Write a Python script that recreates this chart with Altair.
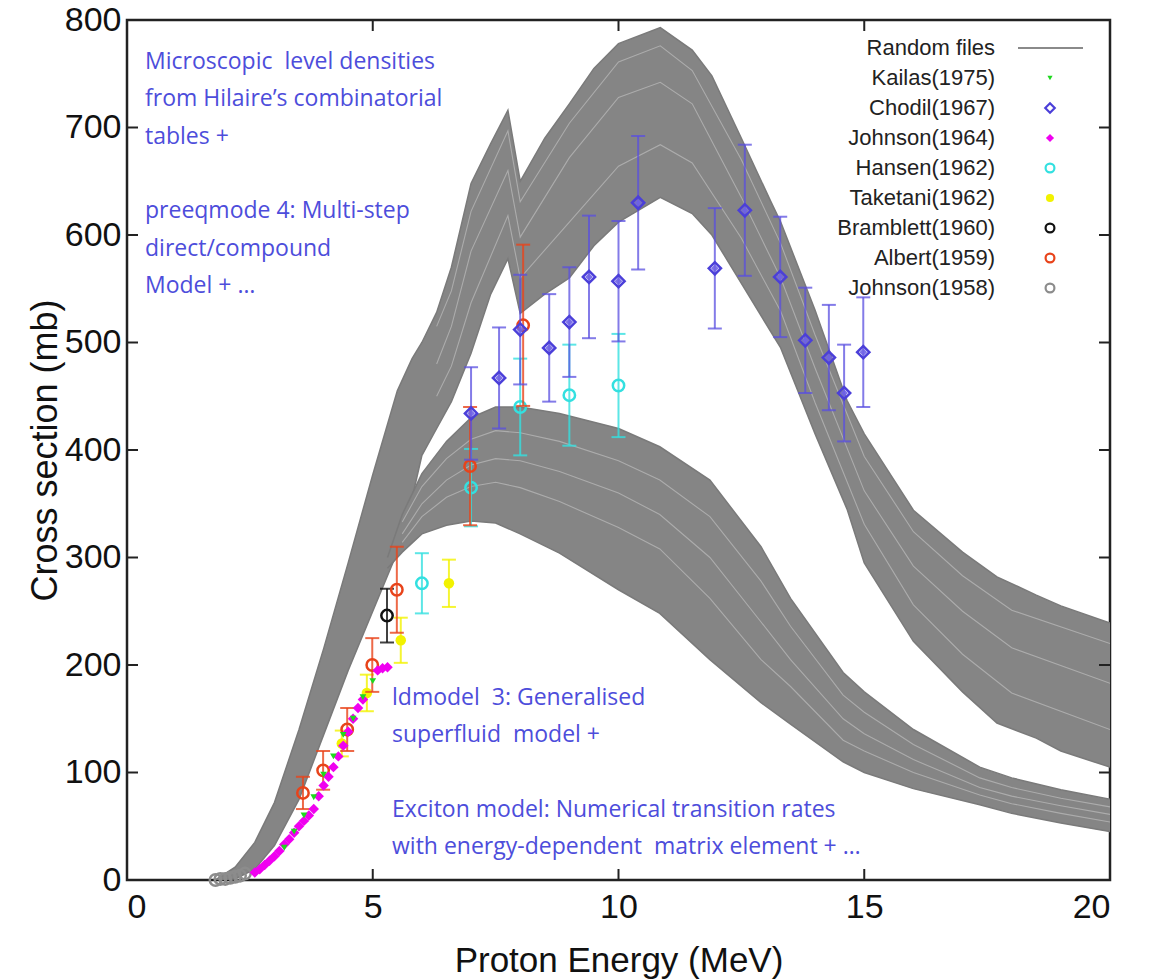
import altair as alt
import pandas as pd

# ---------------- Random files (TALYS) envelopes ----------------
up_E   = [1.8, 2.2, 2.6, 3.0, 3.5, 4.0, 4.5, 5.0, 5.5, 5.8, 6.0, 6.3, 6.6, 7.0, 7.4, 7.75, 8.0, 8.5, 9.0, 9.5, 10.0, 10.85, 11.5, 11.9, 12.5, 13.1, 13.3, 14.0, 14.65, 15.0, 16.0, 17.0, 17.7, 18.5, 19.0, 20.0]
up_top = [0, 12, 35, 72, 140, 215, 295, 377, 455, 485, 500, 528, 570, 648, 685, 716, 650, 690, 722, 755, 778, 793, 772, 748, 690, 631, 612, 530, 446, 415, 344, 305, 282, 265, 255, 239]
up_bot = [0, 1, 10, 32, 75, 135, 195, 250, 305, 355, 395, 420, 445, 490, 545, 578, 527, 545, 560, 590, 612, 635, 620, 600, 555, 510, 495, 415, 345, 295, 222, 175, 146, 132, 120, 105]

lo_E   = [5.3, 5.6, 6.0, 6.5, 7.0, 7.5, 8.0, 8.8, 10.0, 10.84, 11.86, 12.9, 13.5, 14.57, 15.0, 16.0, 17.35, 18.0, 19.0, 20.0]
lo_top = [300, 340, 378, 408, 430, 440, 440, 434, 420, 403, 372, 310, 262, 193, 175, 140, 105, 95, 84, 75]
lo_bot = [290, 305, 322, 330, 334, 332, 322, 304, 270, 248, 205, 165, 145, 110, 100, 85, 70, 62, 53, 45]

# a few individual curves that show as light streaks inside the bundles
up_st_E = [6.3, 6.6, 7.0, 7.75, 8.0, 9.0, 10.0, 10.85, 11.5, 12.5, 13.3, 14.0, 15.0, 16.0, 17.0, 18.0, 20.0]
up_st1  = [515, 548, 622, 697, 631, 704, 761, 776, 753, 670, 592, 507, 394, 324, 283, 251, 220]
up_st2  = [480, 515, 585, 660, 598, 672, 728, 742, 722, 635, 560, 476, 362, 292, 250, 216, 183]
up_st3  = [450, 478, 537, 618, 560, 612, 664, 684, 667, 597, 529, 444, 331, 256, 210, 174, 140]

lo_st_E = [5.6, 6.0, 6.5, 7.0, 7.5, 8.0, 8.8, 10.0, 10.84, 11.86, 12.9, 13.5, 14.57, 15.0, 16.0, 17.35, 18.0, 19.0, 20.0]
lo_st1  = [333, 366, 392, 410, 418, 416, 408, 390, 372, 338, 278, 236, 172, 156, 126, 95, 86, 76, 68]
lo_st2  = [322, 350, 372, 386, 392, 390, 380, 360, 340, 300, 240, 205, 150, 136, 112, 86, 78, 69, 61]
lo_st3  = [314, 338, 356, 366, 370, 365, 352, 328, 308, 262, 205, 180, 130, 120, 100, 79, 71, 62, 54]

# ---------------- Experimental data ----------------
kailas_E = [3.2, 3.4, 3.6, 3.8, 4.0, 4.2, 4.4, 4.6, 4.8, 5.0]
kailas_s = [30, 45, 60, 77, 98, 115, 135, 150, 170, 185]

chodil_E = [7.0, 7.57, 8.0, 8.59, 9.0, 9.4, 10.0, 10.4, 11.96, 12.57, 13.29, 13.8, 14.28, 14.59, 14.98]
chodil_s = [434, 467, 512, 495, 519, 561, 557, 630, 569, 623, 561, 502, 486, 453, 491]
chodil_d = [43, 47, 51, 50, 51, 57, 56, 62, 56, 61, 56, 49, 49, 45, 51]

j64_E = [2.6, 2.7, 2.8, 2.9, 3.0, 3.1, 3.2, 3.3, 3.4, 3.5, 3.6, 3.7, 3.8, 3.9, 4.0, 4.1, 4.2, 4.3, 4.4, 4.5, 4.6, 4.7, 4.8, 5.1, 5.2, 5.3]
j64_s = [7, 10, 14, 18, 22, 27, 33, 38, 44, 50, 55, 60, 66, 78, 88, 96, 105, 115, 125, 138, 150, 160, 168, 195, 197, 198]

hansen_E = [6.0, 7.0, 8.0, 9.0, 10.0]
hansen_s = [276, 365, 440, 451, 460]
hansen_d = [28, 36, 45, 47, 48]

taketani_E = [4.37, 4.88, 5.57, 6.55]
taketani_s = [127, 174, 223, 276]
taketani_d = [12, 17, 21, 22]

bramblett_E = [5.29]
bramblett_s = [246]
bramblett_d = [25]

albert_E = [3.58, 3.99, 4.48, 4.99, 5.49, 6.98, 8.06]
albert_s = [81, 102, 140, 200, 270, 385, 516]
albert_d = [15, 18, 20, 25, 40, 55, 75]

j58_E = [1.8, 1.9, 2.0, 2.1, 2.2, 2.3, 2.4]
j58_s = [0, 1, 1, 2, 3, 4, 6]

legend_names = ["Kailas(1975)", "Chodil(1967)", "Johnson(1964)", "Hansen(1962)",
                "Taketani(1962)", "Bramblett(1960)", "Albert(1959)", "Johnson(1958)"]

x_ticks = [0, 5, 10, 15, 20]
y_ticks = [0, 100, 200, 300, 400, 500, 600, 700, 800]

NB = "\u00a0"
notes_top = ["Microscopic " + NB + "level densities", "from Hilaire\u2019s combinatorial", "tables +",
             "", "preeqmode 4: Multi-step", "direct/compound", "Model + \u2026"]
notes_mid = ["ldmodel " + NB + "3: Generalised", NB + "superfluid " + NB + "model +"]
notes_bot = ["Exciton model: Numerical transition rates",
             "with energy-dependent " + NB + "matrix element + \u2026"]

# ---------------- Chart ----------------
W, H = 983, 860
FONT = "Liberation Sans"
NOTE_FONT = "Open Sans"
NOTE_COLOR = "#4d4ddb"
GRAY = "#858585"

xs = alt.Scale(domain=[0, 20], nice=False, zero=False)
ys = alt.Scale(domain=[0, 800], nice=False)
x_axis = alt.Axis(values=x_ticks, title="Proton Energy (MeV)", ticks=False, domain=False, grid=False,
                  labelFontSize=34, labelFont=FONT, labelColor="#111", labelPadding=10,
                  titleFontSize=35, titleFont=FONT, titleFontWeight="normal", titleColor="#111",
                  titleY=80, titleBaseline="middle")
y_axis = alt.Axis(values=y_ticks, title="Cross section (mb)", ticks=False, domain=False, grid=False,
                  labelFontSize=34, labelFont=FONT, labelColor="#111", labelPadding=6,
                  titleFontSize=36, titleFont=FONT, titleFontWeight="normal", titleColor="#111",
                  titleX=-82, titleBaseline="middle")

def X(f="E"):
    return alt.X(f"{f}:Q", scale=xs, axis=x_axis)

def Y(f="s"):
    return alt.Y(f"{f}:Q", scale=ys, axis=y_axis)

up_df = pd.DataFrame({"E": up_E, "top": up_top, "bot": up_bot})
lo_df = pd.DataFrame({"E": lo_E, "top": lo_top, "bot": lo_bot})

layers = []
for df in (up_df, lo_df):
    layers.append(alt.Chart(df).mark_area(color=GRAY, opacity=1, clip=True).encode(
        x=X(), y=Y("top"), y2=alt.Y2("bot:Q")))
    for f in ("top", "bot"):
        layers.append(alt.Chart(df).mark_line(color="#7a7a7a", strokeWidth=1.5, clip=True).encode(
            x=X(), y=Y(f)))

for E_, curves in ((up_st_E, (up_st1, up_st2, up_st3)), (lo_st_E, (lo_st1, lo_st2, lo_st3))):
    for c in curves:
        layers.append(alt.Chart(pd.DataFrame({"E": E_, "s": c})).mark_line(
            color="white", strokeWidth=1.1, opacity=0.32, clip=True).encode(x=X(), y=Y()))

def series(E, s, d, color, shape, filled, size, bar_color=None, bar_op=0.8):
    df = pd.DataFrame({"E": E, "s": s})
    out = []
    if d is not None:
        df["lo"] = [a - b for a, b in zip(s, d)]
        df["hi"] = [a + b for a, b in zip(s, d)]
        bc = bar_color or color
        out.append(alt.Chart(df).mark_rule(color=bc, strokeWidth=2, opacity=bar_op).encode(
            x=X(), y=Y("lo"), y2=alt.Y2("hi:Q")))
        for f in ("lo", "hi"):
            out.append(alt.Chart(df).mark_tick(color=bc, orient="horizontal", size=14,
                                               thickness=2, opacity=bar_op).encode(x=X(), y=Y(f)))
    out.append(alt.Chart(df).mark_point(color=color, shape=shape, filled=filled, size=size,
                                        strokeWidth=2.5, opacity=1).encode(x=X(), y=Y("s")))
    return out

styles = {
    "Kailas(1975)":    dict(color="#1fd81f", shape="triangle-down", filled=True, size=45),
    "Chodil(1967)":    dict(color="#4b3fd9", shape="diamond", filled=False, size=150),
    "Johnson(1964)":   dict(color="#f000f0", shape="diamond", filled=True, size=110),
    "Hansen(1962)":    dict(color="#33e0e0", shape="circle", filled=False, size=130),
    "Taketani(1962)":  dict(color="#f2f200", shape="circle", filled=True, size=110),
    "Bramblett(1960)": dict(color="#111111", shape="circle", filled=False, size=130),
    "Albert(1959)":    dict(color="#e8431a", shape="circle", filled=False, size=130),
    "Johnson(1958)":   dict(color="#8c8c8c", shape="circle", filled=False, size=130),
}

layers += series(j58_E, j58_s, None, **styles["Johnson(1958)"])
layers += series(hansen_E, hansen_s, hansen_d, **styles["Hansen(1962)"])
layers += series(taketani_E, taketani_s, taketani_d, **styles["Taketani(1962)"])
layers += series(bramblett_E, bramblett_s, bramblett_d, **styles["Bramblett(1960)"])
layers += series(albert_E, albert_s, albert_d, **styles["Albert(1959)"])
layers += series(j64_E, j64_s, None, **styles["Johnson(1964)"])
layers += series(kailas_E, kailas_s, None, **styles["Kailas(1975)"])
layers += series(chodil_E, chodil_s, chodil_d, bar_color="#5a4fe0", bar_op=0.75, **styles["Chodil(1967)"])
# Chodil diamond inner fill
layers.append(alt.Chart(pd.DataFrame({"E": chodil_E, "s": chodil_s})).mark_point(
    color="#6f63e6", shape="diamond", filled=True, size=60, opacity=0.9).encode(x=X(), y=Y()))

# inward ticks on all four sides
xt = pd.DataFrame({"E": x_ticks})
yt = pd.DataFrame({"s": y_ticks})
layers.append(alt.Chart(xt).mark_rule(color="#222", strokeWidth=2).encode(
    x=X(), y=alt.value(H), y2=alt.value(H - 11)))
layers.append(alt.Chart(xt).mark_rule(color="#222", strokeWidth=2).encode(
    x=X(), y=alt.value(0), y2=alt.value(11)))
layers.append(alt.Chart(yt).mark_rule(color="#222", strokeWidth=2).encode(
    y=Y(), x=alt.value(0), x2=alt.value(11)))
layers.append(alt.Chart(yt).mark_rule(color="#222", strokeWidth=2).encode(
    y=Y(), x=alt.value(W), x2=alt.value(W - 11)))

# ---------------- manual legend ----------------
LEG_TX = 995 - 127
LEG_SX = 1050 - 127
row0 = 48 - 20
dy = 30
layers.append(alt.Chart(pd.DataFrame({"t": ["Random files"]})).mark_text(
    align="right", baseline="middle", font=FONT, fontSize=22, color="#222").encode(
    text="t:N", x=alt.value(LEG_TX), y=alt.value(row0)))
layers.append(alt.Chart(pd.DataFrame({"t": ["Random files"]})).mark_rule(
    color="#8a8a8a", strokeWidth=2).encode(x=alt.value(1018 - 127), x2=alt.value(1083 - 127),
                                            y=alt.value(row0)))
for i, name in enumerate(legend_names):
    yy = row0 + dy * (i + 1)
    st = styles[name]
    layers.append(alt.Chart(pd.DataFrame({"t": [name]})).mark_text(
        align="right", baseline="middle", font=FONT, fontSize=22, color="#222").encode(
        text="t:N", x=alt.value(LEG_TX), y=alt.value(yy)))
    layers.append(alt.Chart(pd.DataFrame({"t": [name]})).mark_point(
        color=st["color"], shape=st["shape"], filled=st["filled"], size=st["size"] * 0.6,
        strokeWidth=2.2, opacity=1).encode(x=alt.value(LEG_SX), y=alt.value(yy)))

# ---------------- annotations ----------------
def note_block(lines, x0, y0, step):
    out = []
    for i, t in enumerate(lines):
        if not t:
            continue
        out.append(alt.Chart(pd.DataFrame({"t": [t]})).mark_text(
            align="left", baseline="middle", font=NOTE_FONT, fontSize=23, color=NOTE_COLOR).encode(
            text="t:N", x=alt.value(x0 - 127), y=alt.value(y0 - 20 + step * i)))
    return out

layers += note_block(notes_top, 145, 62, 37.3)
layers += note_block(notes_mid, 392, 698, 37)
layers += note_block(notes_bot, 392, 810, 37)

chart = alt.layer(*layers).properties(
    width=W, height=H,
    autosize=alt.AutoSizeParams(type="none"),
    padding={"left": 127, "top": 20, "right": 43, "bottom": 100},
    background="white",
).configure_view(stroke="#222", strokeWidth=2.5)

chart.save("out.html", embed_options={"renderer": "svg", "actions": False})
